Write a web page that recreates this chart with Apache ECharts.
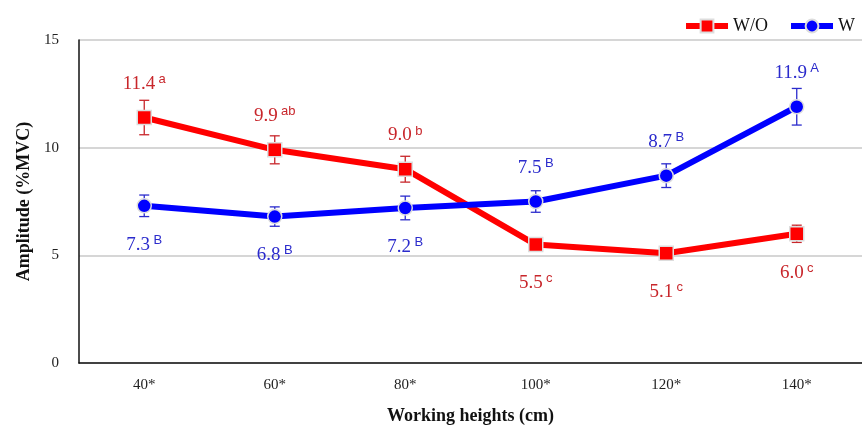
<!DOCTYPE html>
<html><head><meta charset="utf-8">
<script src="https://cdn.jsdelivr.net/npm/echarts@6/dist/echarts.min.js"></script>
<style>html,body{margin:0;padding:0;background:#fff}#c{width:862px;height:430px}</style>
</head><body><div id="c"></div>
<script>
var categories = ['40*', '60*', '80*', '100*', '120*', '140*'];
var woValues = [11.4, 9.9, 9.0, 5.5, 5.1, 6.0];
var woErr = [0.8, 0.65, 0.6, 0.3, 0.3, 0.4];
var woLetters = ['a', 'ab', 'b', 'c', 'c', 'c'];
var wValues = [7.3, 6.8, 7.2, 7.5, 8.7, 11.9];
var wErr = [0.5, 0.45, 0.55, 0.5, 0.55, 0.85];
var wLetters = ['B', 'B', 'B', 'B', 'B', 'A'];
var yTicks = [0, 5, 10, 15];

var RED = '#ff0000', BLUE = '#0000ff';
var RED_TXT = '#c8262b', BLUE_TXT = '#2b2bcc';

function errData(vals, errs) {
  return vals.map(function (v, i) { return [i, v - errs[i], v + errs[i]]; });
}
function errSeries(vals, errs, color) {
  return {
    type: 'custom', z: 1, silent: true,
    data: errData(vals, errs),
    renderItem: function (params, api) {
      var lo = api.coord([api.value(0), api.value(1)]);
      var hi = api.coord([api.value(0), api.value(2)]);
      var w = 5;
      var st = { stroke: color, lineWidth: 1.3 };
      return { type: 'group', children: [
        { type: 'line', shape: { x1: hi[0], y1: hi[1], x2: lo[0], y2: lo[1] }, style: st },
        { type: 'line', shape: { x1: hi[0] - w, y1: hi[1], x2: hi[0] + w, y2: hi[1] }, style: st },
        { type: 'line', shape: { x1: lo[0] - w, y1: lo[1], x2: lo[0] + w, y2: lo[1] }, style: st }
      ]};
    }
  };
}
function pointData(vals, other, letters, color) {
  return vals.map(function (v, i) {
    var above = v > other[i];
    return {
      value: v,
      label: {
        show: true,
        position: above ? 'top' : 'bottom',
        distance: above ? 15 : 20,
        formatter: '{n|' + v.toFixed(1) + '} {s|' + letters[i] + '}',
        rich: {
          n: { fontFamily: 'Liberation Serif', fontSize: 19, color: color },
          s: { fontFamily: 'Liberation Sans', fontSize: 13, color: color, padding: [0, 0, 9, 0] }
        }
      }
    };
  });
}

var chart = echarts.init(document.getElementById('c'));
chart.setOption({
  animation: false,
  legend: {
    right: 2, top: 12,
    itemWidth: 42, itemHeight: 16, itemGap: 20,
    lineStyle: { width: 6 },
    textStyle: { fontFamily: 'Liberation Serif', fontSize: 18, color: '#111' },
    data: ['W/O', 'W']
  },
  grid: { left: 79, right: -11, top: 40, bottom: 62 },
  xAxis: {
    type: 'category', data: categories, boundaryGap: true,
    name: 'Working heights (cm)', nameLocation: 'middle', nameGap: 44,
    nameTextStyle: { fontFamily: 'Liberation Serif', fontSize: 18, fontWeight: 'bold', color: '#111' },
    axisLine: { lineStyle: { color: '#111', width: 1.5 } },
    axisTick: { show: false },
    axisLabel: { fontFamily: 'Liberation Serif', fontSize: 15, color: '#222', margin: 15 }
  },
  yAxis: {
    type: 'value', min: yTicks[0], max: yTicks[yTicks.length - 1], interval: 5,
    name: 'Amplitude (%MVC)', nameLocation: 'middle', nameGap: 37, nameRotate: 90,
    nameTextStyle: { fontFamily: 'Liberation Serif', fontSize: 18, fontWeight: 'bold', color: '#111' },
    axisLine: { show: true, lineStyle: { color: '#111', width: 1.5 } },
    axisTick: { show: false },
    splitLine: { lineStyle: { color: '#c8c8c8', width: 1.5 } },
    axisLabel: { fontFamily: 'Liberation Serif', fontSize: 15, color: '#222', margin: 20 }
  },
  series: [
    errSeries(woValues, woErr, RED_TXT),
    errSeries(wValues, wErr, BLUE_TXT),
    {
      name: 'W/O', type: 'line', z: 3,
      data: pointData(woValues, wValues, woLetters, RED_TXT),
      lineStyle: { color: RED, width: 6 },
      itemStyle: { color: RED, borderColor: '#dddddd', borderWidth: 1.5 },
      symbol: 'rect', symbolSize: 14
    },
    {
      name: 'W', type: 'line', z: 4,
      data: pointData(wValues, woValues, wLetters, BLUE_TXT),
      lineStyle: { color: BLUE, width: 6 },
      itemStyle: { color: BLUE, borderColor: '#dddddd', borderWidth: 1.5 },
      symbol: 'circle', symbolSize: 14
    }
  ]
});
</script></body></html>
